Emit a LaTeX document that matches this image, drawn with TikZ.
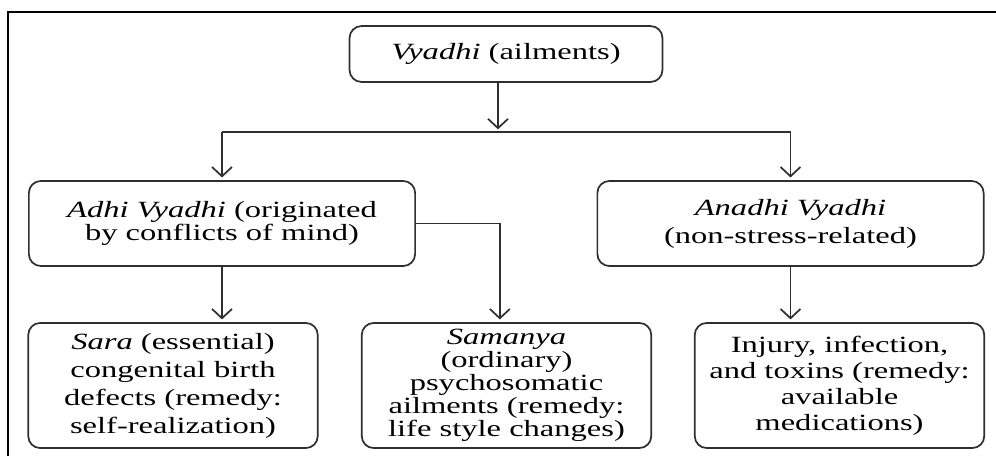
\documentclass[tikz,border=0pt]{standalone}
\usepackage{fontspec}
\setmainfont{Liberation Serif}[FakeStretch=1.4]
\usetikzlibrary{arrows.meta,positioning}
\definecolor{chartink}{HTML}{2F2F2F}
\tikzset{
  box/.style={draw=chartink, line width=1.3pt, rounded corners=9pt, fill=white,
    align=center, inner sep=3pt, font=\fontsize{17.5}{17.3}\selectfont},
  rootbox/.style={box, minimum width=8.28cm, minimum height=1.48cm},
  midbox/.style={box, minimum width=10.22cm, minimum height=2.25cm},
  leafbox/.style={box, minimum width=7.66cm, minimum height=3.31cm},
  arrow/.style={-{Straight Barb[length=7pt,width=15pt,line width=1.3pt]},
    line width=1.3pt, chartink, shorten >=2pt},
  link/.style={line width=1.3pt, chartink},
}
\begin{document}
\begin{tikzpicture}[x=0.2646mm, y=-0.2646mm]
\useasboundingbox (0,0) rectangle (996,456);

% cut-off frame of the figure
\draw[line width=1.9pt, black] (8,456) -- (8,12) -- (996,12);

\node[rootbox] (vyadhi) at (506,54) {\textit{Vyadhi} (ailments)};

\node[midbox] (adhi) at (222,223.5) {\textit{Adhi Vyadhi} (originated\\
  by conflicts of mind)};
\node[midbox] (anadhi) at (790.5,223.5)
  {\textit{Anadhi Vyadhi}\\[3.8pt](non-stress-related)};

\node[leafbox] (sara) at (173,385.5)
  {\textit{Sara} (essential)\\[3.8pt]congenital birth\\[3.8pt]defects (remedy:\\[3.8pt]self-realization)};
\node[leafbox] (samanya) at (506.5,385.5)
  {\textit{Samanya}\\(ordinary)\\psychosomatic\\ailments (remedy:\\life style changes)};
\node[leafbox] (injury) at (839.5,385.5)
  {Injury, infection,\\[2.3pt]and toxins (remedy:\\[2.3pt]available\\[2.3pt]medications)};

\coordinate (split) at (498,132);
\draw[arrow] (vyadhi.south -| split) -- (split);
\draw[link] (split -| adhi.north) -- (split -| anadhi.north);
\draw[arrow] (split -| adhi.north) -- (adhi.north);
\draw[arrow] (split -| anadhi.north) -- (anadhi.north);

\draw[arrow] (adhi.south) -- (adhi.south |- sara.north);
\draw[arrow] (adhi.east) -| ([xshift=-5pt]samanya.north);
\draw[arrow] (anadhi.south) -- (anadhi.south |- injury.north);

\end{tikzpicture}
\end{document}
